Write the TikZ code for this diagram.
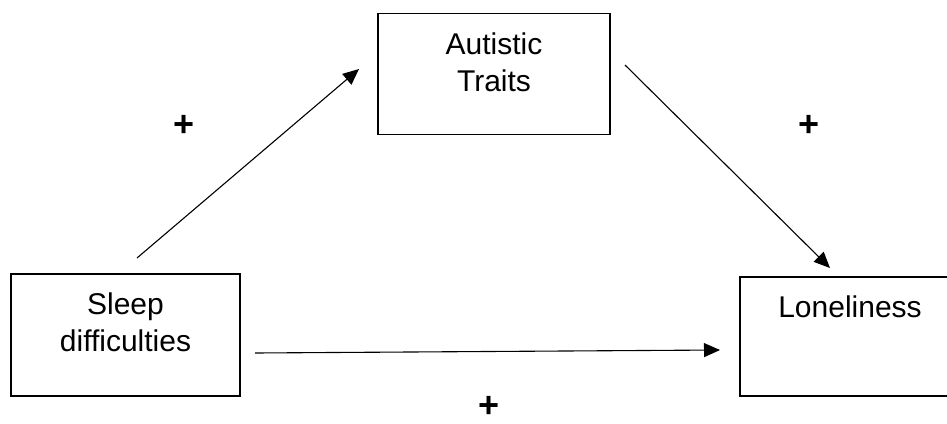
\documentclass[tikz,border=0pt]{standalone}
\usepackage{fontspec}
\setmainfont{Liberation Sans}
\usetikzlibrary{arrows.meta}
\begin{document}
\begin{tikzpicture}[x=0.5pt, y=-0.5pt,
        box/.style={rectangle, draw, line width=0.7pt, align=center, font=\fontsize{15}{18.5}\selectfont},
        effect/.style={-{Triangle[length=8pt, width=7pt]}, line width=0.55pt},
        signlabel/.style={font=\fontsize{18}{20}\selectfont\bfseries, inner sep=0pt}
    ]
    \useasboundingbox (0,0) rectangle (947,423);
    % the three variables
    \node[box, minimum width=116pt, minimum height=60.5pt, text depth=12pt] (traits) at (494,74) {Autistic\\Traits};
    \node[box, minimum width=114.5pt, minimum height=61pt, text depth=12.5pt] (sleep) at (125.5,335) {Sleep\\difficulties};
    \node[box, minimum width=110pt, minimum height=59.5pt, text depth=29.5pt] (lonely) at (850,336.5) {Loneliness};
    % ends of the paths
    \coordinate (sleepout) at (137,258);
    \coordinate (traitsin) at (359,69);
    \coordinate (traitsout) at (625,65);
    \coordinate (lonelyin) at (830,268);
    \coordinate (directout) at (255,353);
    \coordinate (directin) at (720,350);
    \draw[effect] (sleepout) -- (traitsin);
    \draw[effect] (traitsout) -- (lonelyin);
    \draw[effect] (directout) -- (directin);
    % signs
    \node[signlabel] (signa) at (184,126) {+};
    \node[signlabel] (signb) at (809,126) {+};
    \node[signlabel] (signc) at (489,407) {+};
\end{tikzpicture}
\end{document}
